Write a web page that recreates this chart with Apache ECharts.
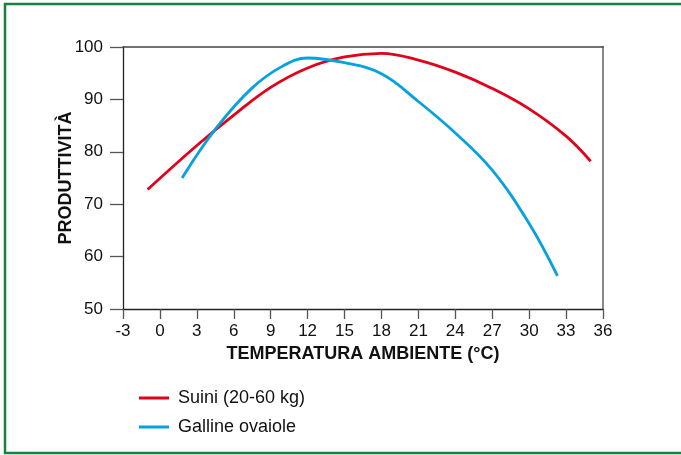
<!DOCTYPE html>
<html><head><meta charset="utf-8">
<script src="https://cdn.jsdelivr.net/npm/echarts@6/dist/echarts.min.js"></script>
<style>html,body{margin:0;padding:0;background:#fff}#c{width:681px;height:455px}</style>
</head><body><div id="c"></div>
<script>
var xTicks = [-3,0,3,6,9,12,15,18,21,24,27,30,33,36];
var yTicks = [50,60,70,80,90,100];
var suiniX = [-1, 3, 6, 9, 12, 15, 18, 21, 24, 27, 30, 33, 35];
var suiniY = [72.8, 81.2, 87.0, 92.3, 96.0, 98.1, 98.8, 97.5, 95.2, 92.1, 88.2, 83.0, 78.2];
var gallineX = [1.8, 4.6, 7.5, 10, 12, 15, 18, 21, 24, 27, 30, 32.3];
var gallineY = [75.0, 84.6, 92.2, 96.4, 97.9, 97.0, 94.9, 89.6, 83.6, 76.5, 66.3, 56.3];
var names = ['Suini (20-60 kg)', 'Galline ovaiole'];

function pairs(xs, ys){ return xs.map(function(x,i){ return [x, ys[i]]; }); }
var FONT = '"Liberation Sans", Arial, Helvetica, sans-serif';
var chart = echarts.init(document.getElementById('c'), null, {renderer:'canvas'});
chart.setOption({
  animation:false,
  backgroundColor:'#fff',
  graphic:[{type:'rect', shape:{x:5, y:4, width:700, height:449}, style:{fill:'none', stroke:'#17803f', lineWidth:2.5}, z:100}],
  grid:{left:123, right:78, top:47, bottom:146},
  legend:{orient:'vertical', left:134, top:384, itemWidth:30, itemHeight:3, itemGap:11, icon:'rect',
    textStyle:{fontFamily:FONT, fontSize:18, color:'#111', padding:[0,0,0,4]},
    data:names},
  xAxis:[{type:'value', min:xTicks[0], max:xTicks[xTicks.length-1], interval:3,
    name:'TEMPERATURA AMBIENTE (°C)', nameLocation:'middle', nameGap:36, nameMoveOverlap:false,
    nameTextStyle:{fontFamily:FONT, fontSize:18, fontWeight:'bold', color:'#111'},
    axisLine:{onZero:false, lineStyle:{color:'#222', width:1.3}},
    axisTick:{show:true, length:10, lineStyle:{color:'#555', width:1.3}},
    axisLabel:{fontFamily:FONT, fontSize:17, color:'#111', margin:14},
    splitLine:{show:false}},
   {type:'value', position:'top', min:xTicks[0], max:xTicks[xTicks.length-1],
    axisLine:{show:true, onZero:false, lineStyle:{color:'#444', width:1.5}}, axisTick:{show:false}, axisLabel:{show:false}, splitLine:{show:false}}],
  yAxis:[{type:'value', min:yTicks[0], max:yTicks[yTicks.length-1], interval:10,
    name:'PRODUTTIVITÀ', nameLocation:'middle', nameGap:48, nameRotate:90, nameMoveOverlap:false,
    nameTextStyle:{fontFamily:FONT, fontSize:18, fontWeight:'bold', color:'#111'},
    axisLine:{show:true, onZero:false, lineStyle:{color:'#222', width:1.3}},
    axisTick:{show:true, length:13, lineStyle:{color:'#555', width:1.3}},
    axisLabel:{fontFamily:FONT, fontSize:17, color:'#111', margin:20},
    splitLine:{show:false}},
   {type:'value', position:'right', min:yTicks[0], max:yTicks[yTicks.length-1],
    axisLine:{show:true, onZero:false, lineStyle:{color:'#888', width:2}}, axisTick:{show:false}, axisLabel:{show:false}, splitLine:{show:false}}],
  series:[
    {name:names[0], type:'line', smooth:0.4, showSymbol:false, data:pairs(suiniX, suiniY),
     lineStyle:{color:'#e3001b', width:2.8}, itemStyle:{color:'#e3001b'}},
    {name:names[1], type:'line', smooth:0.4, showSymbol:false, data:pairs(gallineX, gallineY),
     lineStyle:{color:'#05a1e0', width:2.8}, itemStyle:{color:'#05a1e0'}}
  ]
});
</script></body></html>
